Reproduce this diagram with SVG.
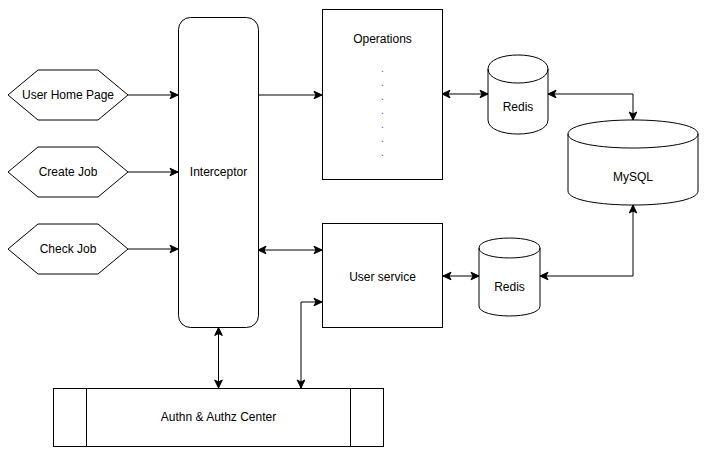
<svg xmlns="http://www.w3.org/2000/svg" width="711" height="455" viewBox="0 0 711 455">
<defs>
<marker id="arr" markerUnits="userSpaceOnUse" markerWidth="10" markerHeight="10" viewBox="0 0 10 10" refX="9" refY="5" orient="auto-start-reverse">
<path d="M1,1.2 L9,5 L1,8.8 L3,5 Z" fill="#000" stroke="#000" stroke-width="1"/>
</marker>
</defs>
<style>
.s{fill:#fff;stroke:#000;stroke-width:1}
.t{font-family:"Liberation Sans",Arial,sans-serif;font-size:12px;fill:#000;text-anchor:middle;dominant-baseline:central}
.c{fill:none;stroke:#000;stroke-width:1}
.one{marker-end:url(#arr)}
.two{marker-start:url(#arr);marker-end:url(#arr)}
</style>
<rect width="711" height="455" fill="#fff"/>
<g id="connectors">
<path class="c one" d="M128,95 H178"/>
<path class="c one" d="M128,172 H178"/>
<path class="c one" d="M128,249 H178"/>
<path class="c one" d="M258,95 H322"/>
<path class="c two" d="M442,94 H488"/>
<path class="c two" d="M548,94 H633 V120"/>
<path class="c two" d="M633,205 V276 H540"/>
<path class="c two" d="M443,276 H479"/>
<path class="c two" d="M258,250 H322"/>
<path class="c two" d="M218.5,327.5 V388"/>
<path class="c two" d="M301,388 V302 H322"/>
</g>
<g id="userHome">
<polygon class="s" points="8,95 38,70 98,70 128,95 98,120 38,120"/>
<text class="t" x="68" y="95">User Home Page</text>
</g>
<g id="createJob">
<polygon class="s" points="8,172 38,147 98,147 128,172 98,197 38,197"/>
<text class="t" x="68" y="172">Create Job</text>
</g>
<g id="checkJob">
<polygon class="s" points="8,249 38,224 98,224 128,249 98,274 38,274"/>
<text class="t" x="68" y="249">Check Job</text>
</g>
<g id="interceptor">
<rect class="s" x="178.5" y="17.5" width="80" height="310" rx="12" ry="12"/>
<text class="t" x="218.5" y="172">Interceptor</text>
</g>
<g id="operations">
<rect class="s" x="322.5" y="9.5" width="120" height="170"/>
<text class="t" x="382.5" y="39">Operations</text>
<g class="t" style="font-size:10px;fill:#2a5d9a">
<text x="382.5" y="68">.</text>
<text x="382.5" y="82">.</text>
<text x="382.5" y="96">.</text>
<text x="382.5" y="110">.</text>
<text x="382.5" y="124">.</text>
<text x="382.5" y="138">.</text>
<text x="382.5" y="152">.</text>
</g>
</g>
<g id="userService">
<rect class="s" x="322.5" y="223.5" width="120" height="104"/>
<text class="t" x="382.5" y="277">User service</text>
</g>
<g id="redis1">
<path class="s" d="M488,69 C488,50.3 548,50.3 548,69 V120 C548,138.7 488,138.7 488,120 Z"/>
<path class="c" d="M488,69 C488,87.7 548,87.7 548,69"/>
<text class="t" x="518" y="107">Redis</text>
</g>
<g id="redis2">
<path class="s" d="M479,248 C479,234.7 540,234.7 540,248 V306 C540,319.3 479,319.3 479,306 Z"/>
<path class="c" d="M479,248 C479,261.3 540,261.3 540,248"/>
<text class="t" x="509.5" y="287">Redis</text>
</g>
<g id="mysql">
<path class="s" d="M568,134 C568,115.3 698,115.3 698,134 V191 C698,209.7 568,209.7 568,191 Z"/>
<path class="c" d="M568,134 C568,152.7 698,152.7 698,134"/>
<text class="t" x="633" y="177">MySQL</text>
</g>
<g id="auth">
<rect class="s" x="53.5" y="388.5" width="330" height="58"/>
<path class="c" d="M86.5,388.5 V446.5 M350.5,388.5 V446.5"/>
<text class="t" x="218.5" y="417">Authn &amp; Authz Center</text>
</g>
</svg>
